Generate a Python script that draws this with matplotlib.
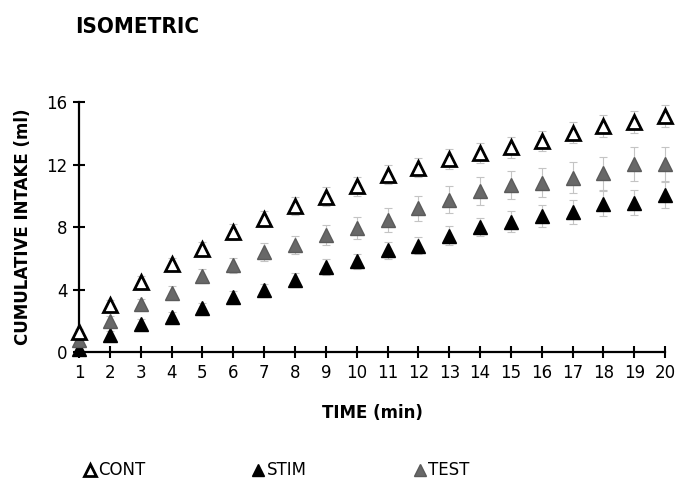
import matplotlib
matplotlib.use('agg')
import matplotlib.pyplot as plt

# minutes 1..20
minutes = list(range(1, 21))

cont = [1.3, 3.0, 4.5, 5.65, 6.6, 7.7, 8.5, 9.35, 9.95, 10.6,
        11.35, 11.8, 12.35, 12.75, 13.1, 13.5, 14.05, 14.45, 14.75, 15.1]
stim = [0.2, 1.1, 1.8, 2.25, 2.8, 3.5, 3.95, 4.6, 5.45, 5.8,
        6.5, 6.8, 7.45, 8.0, 8.35, 8.7, 8.95, 9.5, 9.55, 10.05]
test = [0.75, 2.0, 3.05, 3.8, 4.85, 5.55, 6.4, 6.85, 7.5, 7.95,
        8.45, 9.2, 9.75, 10.3, 10.7, 10.85, 11.15, 11.45, 12.05, 12.05]

cont_err = [0.2, 0.3, 0.35, 0.4, 0.45, 0.5, 0.5, 0.55, 0.6, 0.6,
            0.6, 0.6, 0.65, 0.65, 0.65, 0.65, 0.7, 0.7, 0.7, 0.7]
stim_err = [0.15, 0.25, 0.3, 0.3, 0.35, 0.4, 0.4, 0.45, 0.5, 0.5,
            0.55, 0.55, 0.6, 0.6, 0.65, 0.7, 0.75, 0.8, 0.8, 0.85]
test_err = [0.2, 0.3, 0.35, 0.4, 0.45, 0.5, 0.55, 0.6, 0.65, 0.7,
            0.75, 0.8, 0.85, 0.9, 0.9, 0.95, 1.0, 1.05, 1.1, 1.1]

fig = plt.figure(figsize=(6.76, 4.79), dpi=100)
ax = fig.add_axes([0.117, 0.265, 0.867, 0.522])

ebkw = dict(fmt='none', ecolor='#c4c4c4', elinewidth=0.8, capsize=3, capthick=0.8,
            linestyle=':', zorder=1, clip_on=False)
ax.errorbar(minutes, stim, yerr=stim_err, **ebkw)
ax.errorbar(minutes, test, yerr=test_err, **ebkw)
ax.errorbar(minutes, cont, yerr=cont_err, **ebkw)

h_stim, = ax.plot(minutes, stim, '^', ms=10.5, color='black', mec='black', ls='none',
                  label='STIM', clip_on=False, zorder=3)
h_test, = ax.plot(minutes, test, '^', ms=10.5, color='#686868', mec='#5a5a5a', ls='none',
                  label='TEST', clip_on=False, zorder=4)
h_cont, = ax.plot(minutes, cont, '^', ms=10, mfc='white', mec='black', mew=2, ls='none',
                  label='CONT', clip_on=False, zorder=5)

ax.set_xlim(1, 20)
ax.set_ylim(0, 16)
ax.set_xticks(minutes)
ax.set_yticks([0, 4, 8, 12, 16])
for s in ['top', 'right']:
    ax.spines[s].set_visible(False)
for s in ['left', 'bottom']:
    ax.spines[s].set_linewidth(1.6)
ax.tick_params(direction='inout', length=9, width=1.5, labelsize=12, pad=4)

ax.set_xlabel('TIME (min)', fontsize=12, fontweight='bold', labelpad=16)
ax.set_ylabel('CUMULATIVE INTAKE (ml)', fontsize=12, fontweight='bold', labelpad=10)

fig.text(0.111, 0.943, 'ISOMETRIC', fontsize=16, fontweight='bold', va='center',
         ha='left', fontstretch='condensed')

fig.legend(handles=[h_cont, h_stim, h_test], loc='center left',
           bbox_to_anchor=(0.098, 0.018), ncol=3, frameon=False, fontsize=12,
           handletextpad=0.0, columnspacing=6.3, handlelength=1.0, markerscale=0.8)

plt.savefig('out.png', format='png')
plt.close()
